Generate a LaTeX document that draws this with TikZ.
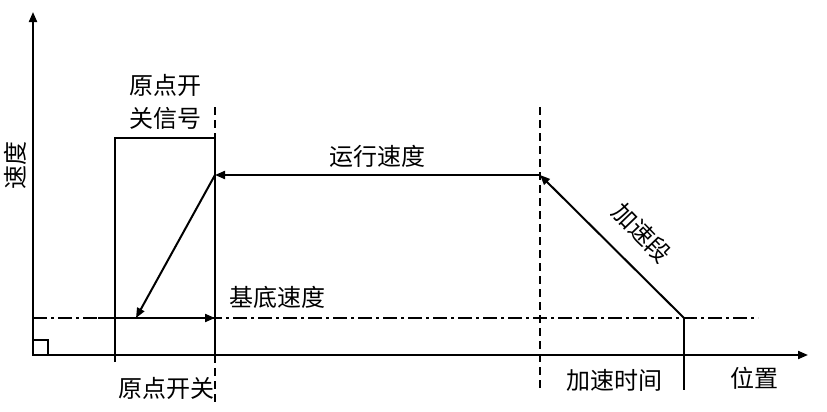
\documentclass[tikz,border=0pt]{standalone}
\usepackage{fontspec}
\setmainfont{Noto Sans CJK SC}
\usetikzlibrary{positioning,calc,arrows.meta}
\tikzset{
  axis/.style={line width=1pt,-{Triangle[length=5pt,width=4pt]}},
  guide/.style={line width=0.8pt,dash pattern=on 4pt off 2.5pt},
  basedash/.style={line width=0.8pt,dash pattern=on 7pt off 2pt on 1.5pt off 2pt},
  switchbox/.style={line width=0.8pt},
  speed/.style={line width=1pt,-{Triangle[length=5pt,width=4pt]}},
  lbl/.style={font=\fontsize{12}{16.5}\selectfont,inner sep=0pt,align=center}
}
\begin{document}
\begin{tikzpicture}[x=0.5pt,y=-0.5pt]
   \useasboundingbox (0,0) rectangle (827,412);

   % axes
   \coordinate (o)    at (33,355);
   \coordinate (ytop) at (33,12);
   \coordinate (xend) at (808,355);
   \draw[axis] (o) -- (ytop);
   \draw[axis] (o) -- (xend);
   \draw[line width=0.8pt] (o) rectangle ++(15,-15);

   % points of the speed profile
   \coordinate (sw0)  at (115,362);
   \coordinate (sw1)  at (115,138);
   \coordinate (sw2)  at (215,138);
   \coordinate (sw3)  at (215,355);
   \coordinate (run0) at (215,175);
   \coordinate (run1) at (540,175);
   \coordinate (base0) at (33,318);
   \coordinate (base1) at (758,318);
   \coordinate (low)  at (136,318);
   \coordinate (bs)   at (98,318);
   \coordinate (be)   at (215,318);
   \coordinate (acc)  at (684,318);

   % switch signal box
   \draw[switchbox] (sw0) -- (sw1) -- (sw2) -- (sw3);
   \draw[guide] (215,107) -- (sw2);
   \draw[guide] (sw3) -- (215,405);
   \draw[guide] (540,107) -- (540,392);

   % base speed line
   \draw[basedash] (base0) -- (base1);
   \draw[switchbox] (acc) -- (684,390);

   % profile
   \draw[speed] (run1) -- (run0);
   \draw[speed] (run0) -- (low);
   \draw[speed] (bs) -- (be);
   \draw[speed] (acc) -- (run1);

   % labels
   \node[lbl]             (sig)   at (165,102) {原点开\\关信号};
   \node[lbl]             (runl)  at (377,156) {运行速度};
   \node[lbl,rotate=-46]  (accl)  at (642,233) {加速段};
   \node[lbl]             (basel) at (277,297) {基底速度};
   \node[lbl]             (swl)   at (167,388) {原点开关};
   \node[lbl]             (acct)  at (615,380) {加速时间};
   \node[lbl]             (pos)   at (754,378) {位置};
   \node[lbl,rotate=90]   (vel)   at (15,166)  {速度};
\end{tikzpicture}
\end{document}
